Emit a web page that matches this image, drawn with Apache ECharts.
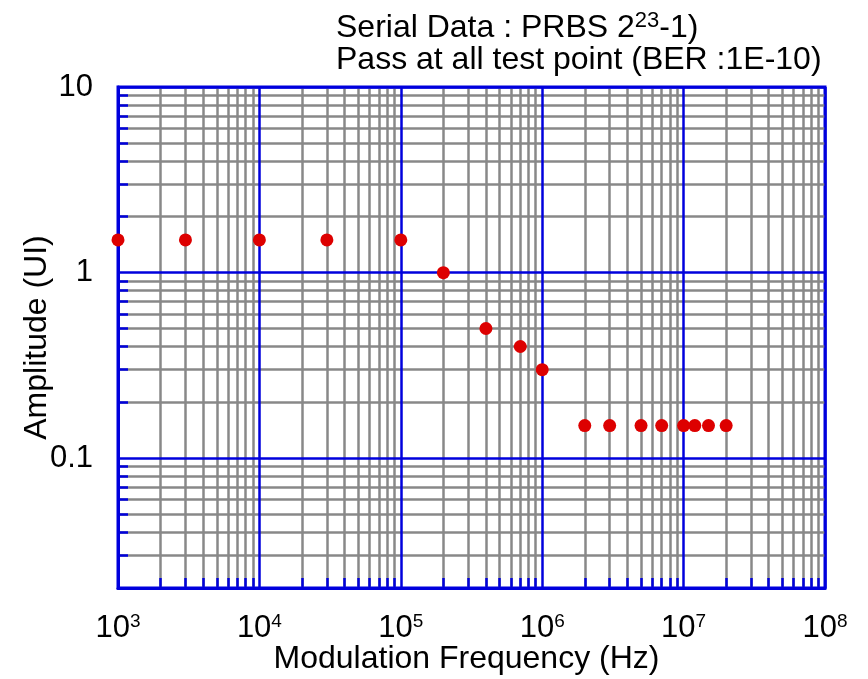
<!DOCTYPE html>
<html><head><meta charset="utf-8">
<script src="https://cdn.jsdelivr.net/npm/echarts@6/dist/echarts.min.js"></script>
<style>html,body{margin:0;padding:0;background:#fff}#c{width:868px;height:679px}</style>
</head><body><div id="c"></div>
<script>
const freqHz = [1e3, 3e3, 1e4, 3e4, 1e5, 2e5, 4e5, 7e5, 1e6, 2e6, 3e6, 5e6, 7e6, 1e7, 1.2e7, 1.5e7, 2e7];
const amplitudeUI = [1.5, 1.5, 1.5, 1.5, 1.5, 1.0, 0.5, 0.4, 0.3, 0.15, 0.15, 0.15, 0.15, 0.15, 0.15, 0.15, 0.15];
const xMajor = [1e3, 1e4, 1e5, 1e6, 1e7, 1e8];
const yMajor = [0.1, 1, 10];
const xMinor = [];
[1e3, 1e4, 1e5, 1e6, 1e7].forEach(d => { for (let k = 2; k <= 9; k++) xMinor.push(k * d); });
const yMinor = [];
[0.01, 0.1, 1].forEach(d => { for (let k = 2; k <= 9; k++) yMinor.push(+(k * d).toPrecision(3)); });

const BLUE = '#0000dd', GRAY = '#888888', FONT = '"Liberation Sans", Arial, sans-serif';
const FS = 32;
const chart = echarts.init(document.getElementById('c'));
const supRich = {
  b: { fontSize: 31, color: '#000', fontFamily: FONT },
  s: { fontSize: 19, color: '#000', fontFamily: FONT, padding: [0, 0, 14, 0] }
};
chart.setOption({
  animation: false,
  title: {
    text: '{a|Serial Data : PRBS 2}{s|23}{a|-1)}\n{a|Pass at all test point (BER :1E-10)}',
    left: 331, top: 7,
    textStyle: {
      fontFamily: FONT, fontSize: FS, fontWeight: 'normal', color: '#000', lineHeight: 32,
      rich: {
        a: { fontSize: FS, color: '#000', fontFamily: FONT, lineHeight: 32 },
        s: { fontSize: 22, color: '#000', fontFamily: FONT, padding: [0, 0, 14, 0] }
      }
    }
  },
  grid: { left: 118, right: 43, top: 87, bottom: 91, outerBoundsMode: 'none', containLabel: false, show: true, borderColor: BLUE, borderWidth: 3, backgroundColor: 'transparent' },
  xAxis: [
    {
      type: 'log', logBase: 10, min: 1e3, max: 1e8, position: 'bottom',
      axisLine: { show: false },
      axisTick: { show: true, inside: true, length: 10, customValues: xMinor, lineStyle: { color: BLUE, width: 2.5 } },
      axisLabel: { show: false },
      splitLine: { show: true, lineStyle: { color: GRAY, width: 2.5 } },
      z: 1
    },
    {
      type: 'log', logBase: 10, min: 1e3, max: 1e8, position: 'bottom', offset: 0,
      name: 'Modulation Frequency (Hz)', nameLocation: 'middle', nameGap: 55, nameMoveOverlap: false,
      nameTextStyle: { fontFamily: FONT, fontSize: FS, color: '#000', padding: [0, 10, 0, 0] },
      axisLine: { show: true, lineStyle: { color: BLUE, width: 3 } },
      axisTick: { show: false, customValues: xMajor },
      axisLabel: {
        show: true, customValues: xMajor, margin: 24,
        formatter: v => '{b|10}{s|' + Math.round(Math.log10(v)) + '}',
        rich: supRich
      },
      splitLine: { show: true, lineStyle: { color: BLUE, width: 2.5 } },
      z: 2
    }
  ],
  yAxis: [
    {
      type: 'log', logBase: 10, min: 0.02, max: 10, position: 'left',
      axisLine: { show: false },
      axisTick: { show: true, inside: true, length: 10, customValues: yMinor, lineStyle: { color: BLUE, width: 2.5 } },
      axisLabel: { show: false },
      splitLine: { show: true, lineStyle: { color: GRAY, width: 2.5 } },
      z: 1
    },
    {
      type: 'log', logBase: 10, min: 0.02, max: 10, position: 'left', offset: 0,
      name: 'Amplitude (UI)', nameLocation: 'middle', nameGap: 65, nameRotate: 90, nameMoveOverlap: false,
      nameTextStyle: { fontFamily: FONT, fontSize: FS, color: '#000' },
      axisLine: { show: true, lineStyle: { color: BLUE, width: 3 } },
      axisTick: { show: false, customValues: yMajor },
      axisLabel: {
        show: true, customValues: yMajor, margin: 25,
        fontFamily: FONT, fontSize: 31, color: '#000',
        formatter: v => String(v)
      },
      splitLine: { show: true, lineStyle: { color: BLUE, width: 2.5 } },
      z: 2
    }
  ],
  series: [{
    type: 'scatter', xAxisIndex: 1, yAxisIndex: 1,
    data: freqHz.map((f, i) => [f, amplitudeUI[i]]),
    symbol: 'circle', symbolSize: 13, clip: false,
    itemStyle: { color: '#dd0000', opacity: 1 }, z: 10
  }]
});
</script></body></html>
